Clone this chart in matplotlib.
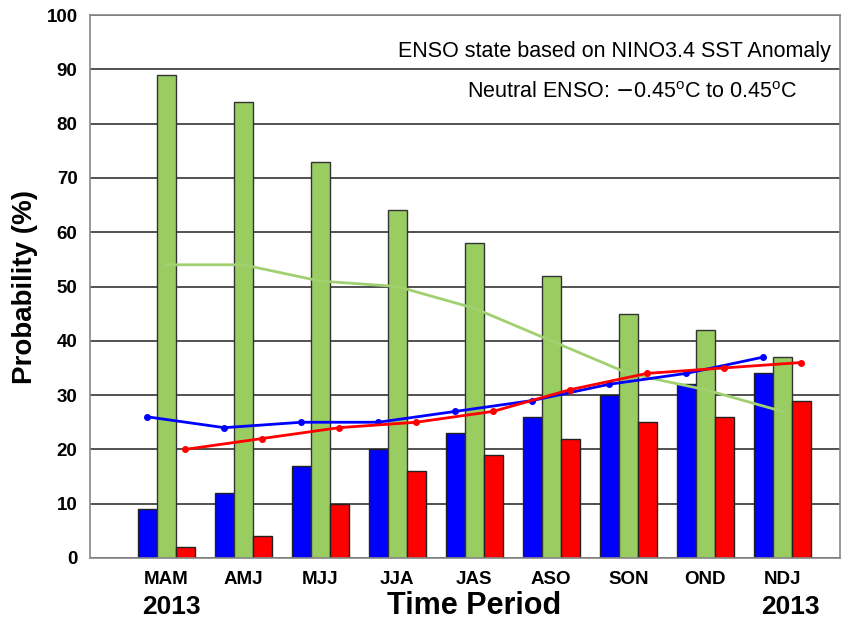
import numpy as np
import matplotlib.pyplot as plt

# Probabilities (%) per 3-month season
periods = ['MAM', 'AMJ', 'MJJ', 'JJA', 'JAS', 'ASO', 'SON', 'OND', 'NDJ']
la_nina = [9, 12, 17, 20, 23, 26, 30, 32, 34]
neutral = [89, 84, 73, 64, 58, 52, 45, 42, 37]
el_nino = [2, 4, 10, 16, 19, 22, 25, 26, 29]

# climatological probabilities
clim_la_nina = [26, 24, 25, 25, 27, 29, 32, 34, 37]
clim_neutral = [54, 54, 51, 50, 46, 40, 34, 31, 27]
clim_el_nino = [20, 22, 24, 25, 27, 31, 34, 35, 36]

BLUE = '#0000ff'
GREEN = '#9acd61'
RED = '#ff0000'

plt.rcParams['font.family'] = ['Liberation Sans', 'DejaVu Sans']

fig = plt.figure(figsize=(8.56, 6.23), dpi=100)
ax = fig.add_axes([90/856, 1 - 558/623, 750/856, 543/623])

x = np.arange(len(periods))
w = 0.245
off = 0.245

ax.bar(x - off, la_nina, w, color=BLUE, edgecolor='#222222', linewidth=1.0, zorder=2)
ax.bar(x, neutral, w, color=GREEN, edgecolor='#333333', linewidth=1.0, zorder=2)
ax.bar(x + off, el_nino, w, color=RED, edgecolor='#222222', linewidth=1.0, zorder=2)

ax.plot(x, clim_neutral, color='#a0d070', lw=2, zorder=3)
ax.plot(x - off, clim_la_nina, color=BLUE, lw=2, marker='o', ms=4, zorder=4)
ax.plot(x + off, clim_el_nino, color=RED, lw=2, marker='o', ms=4, zorder=4)

ax.set_xlim(-0.99, 8.75)
ax.set_ylim(0, 100)
ax.set_yticks(range(0, 101, 10))
ax.yaxis.grid(True, color='#222222', lw=1.1, zorder=0)
ax.set_axisbelow(True)
ax.set_xticks(x)
ax.set_xticklabels(periods)
for lab in ax.get_xticklabels() + ax.get_yticklabels():
    lab.set_fontweight('bold')
    lab.set_fontsize(13.5)
ax.tick_params(length=0, pad=9)
for s in ax.spines.values():
    s.set_color('#888888')
    s.set_linewidth(1.2)

ax.set_ylabel('Probability (%)', fontsize=20, fontweight='bold', labelpad=6)
xt = ax.get_xaxis_transform()
ax.text(4.0, -0.088, 'Time Period', transform=xt,
        ha='center', va='center', fontsize=22, fontweight='bold')
ax.text(0.07, -0.09, '2013', transform=xt,
        ha='center', va='center', fontsize=19, fontweight='bold')
ax.text(8.1, -0.09, '2013', transform=xt,
        ha='center', va='center', fontsize=19, fontweight='bold')

ax.text(0.988, 0.932, 'ENSO state based on NINO3.4 SST Anomaly',
        transform=ax.transAxes, ha='right', va='center', fontsize=15.5)
ax.text(0.943, 0.858, r'Neutral ENSO: $-$0.45$^{\mathregular{o}}$C to 0.45$^{\mathregular{o}}$C',
        transform=ax.transAxes, ha='right', va='center', fontsize=15.5)

fig.savefig('out.png', dpi=100)
